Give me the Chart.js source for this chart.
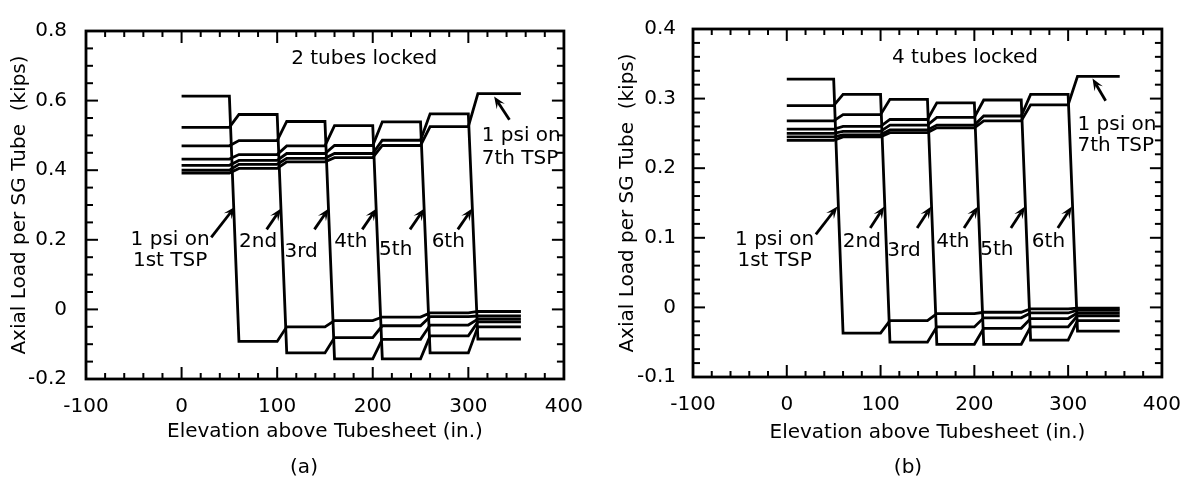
<!DOCTYPE html>
<html>
<head>
<meta charset="utf-8">
<script src="https://cdn.jsdelivr.net/npm/chart.js@4.4.0/dist/chart.umd.min.js"></script>
<style>
  html, body { margin: 0; padding: 0; background: #fff; }
  #wrap { position: relative; width: 1197px; height: 480px; }
  canvas { position: absolute; top: 0; }
  #chartA { left: 0; }
  #chartB { left: 599px; }
</style>
</head>
<body>
<div id="wrap">
  <canvas id="chartA" width="599" height="480"></canvas>
  <canvas id="chartB" width="598" height="480"></canvas>
</div>
<script>
// Spans between support plates: start and end elevation of each flat part (in.)
const spanStart = [0, 60, 110, 160, 210, 260, 310];
const spanEnd   = [50, 100, 150, 200, 250, 300, 355];

// Panel (a), 2 tubes locked: axial load in each span (kips), one list per loaded TSP
const loadA1 = [0.613, -0.092, -0.050, -0.032, -0.022, -0.010, -0.006];
const loadA2 = [0.523, 0.560, -0.125, -0.081, -0.047, -0.021, -0.019];
const loadA3 = [0.470, 0.485, 0.540, -0.142, -0.086, -0.045, -0.028];
const loadA4 = [0.432, 0.445, 0.470, 0.528, -0.142, -0.076, -0.036];
const loadA5 = [0.414, 0.428, 0.448, 0.471, 0.539, -0.125, -0.050];
const loadA6 = [0.400, 0.417, 0.434, 0.448, 0.486, 0.562, -0.085];
const loadA7 = [0.392, 0.405, 0.424, 0.436, 0.471, 0.525, 0.620];

// Panel (b), 4 tubes locked
const loadB1 = [0.328, -0.037, -0.019, -0.009, -0.007, -0.002, -0.001];
const loadB2 = [0.290, 0.306, -0.050, -0.028, -0.015, -0.008, -0.004];
const loadB3 = [0.268, 0.277, 0.299, -0.053, -0.030, -0.016, -0.008];
const loadB4 = [0.256, 0.260, 0.270, 0.294, -0.053, -0.028, -0.012];
const loadB5 = [0.250, 0.253, 0.262, 0.273, 0.298, -0.047, -0.019];
const loadB6 = [0.245, 0.248, 0.255, 0.262, 0.275, 0.306, -0.034];
const loadB7 = [0.240, 0.245, 0.251, 0.258, 0.268, 0.291, 0.332];

const xTicks = [-100, 0, 100, 200, 300, 400];
const yTicksA = [-0.2, 0, 0.2, 0.4, 0.6, 0.8];
const yTicksB = [-0.1, 0, 0.1, 0.2, 0.3, 0.4];

const FONT = '"DejaVu Sans", "Liberation Sans", sans-serif';

// Flat part of every span, joined by the sloped transitions at each plate
function spanPoints(loads) {
    const pts = [];
    loads.forEach((v, i) => {
        pts.push({ x: spanStart[i], y: v }, { x: spanEnd[i], y: v });
    });
    return pts;
}

// Box with inward ticks on all four sides
const framePlugin = {
    id: 'frame',
    afterDatasetsDraw(chart, args, o) {
        const { ctx, chartArea: a, scales: { x, y } } = chart;
        ctx.save();
        ctx.strokeStyle = '#000';
        ctx.lineWidth = 2;
        const seg = (x0, y0, x1, y1) => { ctx.beginPath(); ctx.moveTo(x0, y0); ctx.lineTo(x1, y1); ctx.stroke(); };
        const isMajor = (v, step) => Math.abs(v / step - Math.round(v / step)) < 1e-6;
        const nx = Math.round((x.max - x.min) / o.xMinor);
        for (let i = 1; i < nx; i++) {
            const v = x.min + i * o.xMinor;
            const px = x.getPixelForValue(v);
            const len = isMajor(v, o.xMajor) ? 12 : 6;
            seg(px, a.bottom, px, a.bottom - len);
            seg(px, a.top, px, a.top + len);
        }
        const ny = Math.round((y.max - y.min) / o.yMinor);
        for (let i = 1; i < ny; i++) {
            const v = y.min + i * o.yMinor;
            const py = y.getPixelForValue(v);
            const len = isMajor(v, o.yMajor) ? 12 : 7;
            seg(a.left, py, a.left + len, py);
            seg(a.right, py, a.right - len, py);
        }
        ctx.lineWidth = 2.8;
        ctx.strokeRect(a.left, a.top, a.right - a.left, a.bottom - a.top);
        ctx.restore();
    }
};

// Labels and arrows placed in data units
const notePlugin = {
    id: 'notes',
    afterDraw(chart, args, o) {
        const { ctx, scales: { x, y } } = chart;
        ctx.save();
        ctx.fillStyle = '#000';
        ctx.strokeStyle = '#000';
        ctx.font = '20px ' + FONT;
        ctx.textBaseline = 'middle';
        o.texts.forEach(t => {
            ctx.textAlign = t.align || 'center';
            ctx.fillText(t.text, x.getPixelForValue(t.x), y.getPixelForValue(t.y));
        });
        ctx.lineWidth = 2.8;
        o.arrows.forEach(ar => {
            const x0 = x.getPixelForValue(ar[0]), y0 = y.getPixelForValue(ar[1]);
            const x1 = x.getPixelForValue(ar[2]), y1 = y.getPixelForValue(ar[3]);
            const ang = Math.atan2(y1 - y0, x1 - x0);
            const head = 13, spread = 0.38, notch = 7;
            const bx = x1 - notch * Math.cos(ang), by = y1 - notch * Math.sin(ang);
            ctx.beginPath(); ctx.moveTo(x0, y0); ctx.lineTo(bx, by); ctx.stroke();
            ctx.beginPath();
            ctx.moveTo(x1, y1);
            ctx.lineTo(x1 - head * Math.cos(ang - spread), y1 - head * Math.sin(ang - spread));
            ctx.lineTo(bx, by);
            ctx.lineTo(x1 - head * Math.cos(ang + spread), y1 - head * Math.sin(ang + spread));
            ctx.closePath();
            ctx.fill();
        });
        ctx.textAlign = 'center';
        ctx.fillText(o.caption.text, o.caption.px, o.caption.py);
        ctx.restore();
    }
};

function makeChart(id, loads, cfg) {
    const font = { family: FONT, size: 20 };
    return new Chart(document.getElementById(id), {
        type: 'scatter',
        data: {
            datasets: loads.map(l => ({
                data: spanPoints(l),
                showLine: true,
                borderColor: '#000',
                borderWidth: 2.8,
                pointRadius: 0,
                tension: 0
            }))
        },
        options: {
            responsive: false,
            animation: false,
            events: [],
            layout: { padding: { left: 0, top: cfg.area.top, right: cfg.width - cfg.area.right, bottom: 0 } },
            plugins: {
                legend: { display: false },
                tooltip: { enabled: false },
                frame: cfg.frame,
                notes: cfg.notes
            },
            scales: {
                x: {
                    type: 'linear', min: -100, max: 400,
                    afterBuildTicks: s => { s.ticks = xTicks.map(v => ({ value: v })); },
                    afterFit: s => { s.height = 480 - cfg.area.bottom; },
                    ticks: { autoSkip: false, maxRotation: 0, padding: 16, color: '#000', font },
                    grid: { display: false, drawTicks: false },
                    border: { display: false },
                    title: { display: true, text: 'Elevation above Tubesheet (in.)', color: '#000', font, padding: { top: 0, bottom: cfg.xTitlePad } }
                },
                y: {
                    type: 'linear', min: cfg.yTicks[0], max: cfg.yTicks[cfg.yTicks.length - 1],
                    afterBuildTicks: s => { s.ticks = cfg.yTicks.map(v => ({ value: v })); },
                    afterFit: s => { s.width = cfg.area.left; },
                    ticks: {
                        padding: cfg.yTickPad, color: '#000', font,
                        callback: v => (Math.abs(v) < 1e-9 ? '0' : String(+v.toFixed(2)))
                    },
                    grid: { display: false, drawTicks: false },
                    border: { display: false },
                    title: { display: true, text: 'Axial Load per SG Tube  (kips)', color: '#000', font, padding: { top: cfg.yTitlePad, bottom: 0 } }
                }
            }
        },
        plugins: [framePlugin, notePlugin]
    });
}

const stepLabels = (yRow, yLow) => [
    { text: '2nd', x: 80, y: yRow[0] },
    { text: '3rd', x: 125, y: yLow[0] },
    { text: '4th', x: 177, y: yRow[0] },
    { text: '5th', x: 224, y: yLow[1] },
    { text: '6th', x: 279, y: yRow[0] }
];

makeChart('chartA', [loadA1, loadA2, loadA3, loadA4, loadA5, loadA6, loadA7], {
    width: 599,
    area: { left: 86, right: 564, top: 21, bottom: 379 },
    yTicks: yTicksA, yTickPad: 19, yTitlePad: 8, xTitlePad: 36,
    frame: { xMinor: 20, xMajor: 100, yMinor: 0.05, yMajor: 0.2 },
    notes: {
        texts: [
            { text: '2 tubes locked', x: 191, y: 0.72 },
            { text: '1 psi on', x: -12, y: 0.199 },
            { text: '1st TSP', x: -12, y: 0.14 },
            { text: '1 psi on', x: 314, y: 0.50, align: 'left' },
            { text: '7th TSP', x: 314, y: 0.433, align: 'left' }
        ].concat(stepLabels([0.193], [0.165, 0.171])),
        arrows: [
            [31, 0.207, 56, 0.295],
            [89, 0.23, 104, 0.29],
            [139, 0.23, 154, 0.29],
            [189, 0.23, 204, 0.29],
            [239, 0.23, 254, 0.29],
            [289, 0.23, 304, 0.29],
            [343, 0.545, 327, 0.612]
        ],
        caption: { text: '(a)', px: 304, py: 468 }
    }
});

makeChart('chartB', [loadB1, loadB2, loadB3, loadB4, loadB5, loadB6, loadB7], {
    width: 598,
    area: { left: 94, right: 570, top: 22, bottom: 377 },
    yTicks: yTicksB, yTickPad: 17, yTitlePad: 17, xTitlePad: 35,
    frame: { xMinor: 20, xMajor: 100, yMinor: 0.02, yMajor: 0.1 },
    notes: {
        texts: [
            { text: '4 tubes locked', x: 190, y: 0.358 },
            { text: '1 psi on', x: -13, y: 0.097 },
            { text: '1st TSP', x: -13, y: 0.067 },
            { text: '1 psi on', x: 310, y: 0.262, align: 'left' },
            { text: '7th TSP', x: 310, y: 0.232, align: 'left' }
        ].concat(stepLabels([0.094], [0.081, 0.083])),
        arrows: [
            [31, 0.105, 54, 0.145],
            [89, 0.114, 104, 0.145],
            [139, 0.114, 154, 0.145],
            [189, 0.114, 204, 0.145],
            [239, 0.114, 254, 0.145],
            [289, 0.114, 304, 0.145],
            [340, 0.297, 326, 0.329]
        ],
        caption: { text: '(b)', px: 309, py: 468 }
    }
});
</script>
</body>
</html>
